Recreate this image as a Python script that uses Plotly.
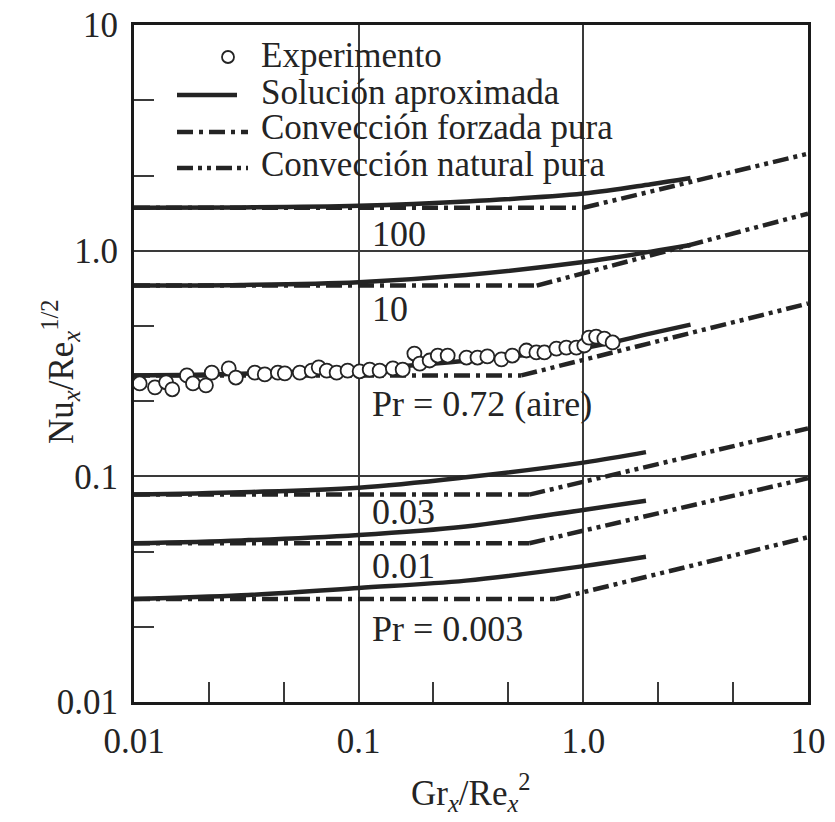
import math
import plotly.graph_objects as go

# ---------------- data ----------------
# Experimental points (Pr = 0.72, air)
x_exp = [0.0106, 0.0124, 0.0139, 0.0148, 0.0172, 0.0183, 0.0209, 0.0222, 0.0264, 0.0284,
         0.0345, 0.0382, 0.0437, 0.0469, 0.0547, 0.0618, 0.0664, 0.0721, 0.0798, 0.0893,
         0.101, 0.112, 0.124, 0.142, 0.157, 0.177, 0.187, 0.207, 0.225, 0.249,
         0.302, 0.338, 0.374, 0.432, 0.483, 0.558, 0.618, 0.671, 0.759, 0.840,
         0.931, 1.01, 1.06, 1.14, 1.24, 1.35]
y_exp = [0.258, 0.248, 0.261, 0.243, 0.280, 0.258, 0.253, 0.288, 0.301, 0.274,
         0.288, 0.283, 0.288, 0.286, 0.288, 0.294, 0.304, 0.294, 0.288, 0.294,
         0.292, 0.297, 0.294, 0.301, 0.297, 0.350, 0.316, 0.326, 0.343, 0.343,
         0.336, 0.336, 0.340, 0.330, 0.343, 0.361, 0.354, 0.354, 0.368, 0.372,
         0.372, 0.380, 0.412, 0.416, 0.408, 0.392]

pr_labels = ["100", "10", "Pr = 0.72 (aire)", "0.03", "0.01", "Pr = 0.003"]

# Pure forced convection: constant level up to the crossing with natural convection
forced_start_x = 0.01
forced_level = [1.55, 0.70, 0.28, 0.083, 0.0505, 0.0286]
forced_end_x = [1.0, 0.62, 0.53, 0.575, 0.575, 0.75]
# Pure natural convection: from the crossing to Gr/Re^2 = 10
natural_end_x = 10
natural_end_y = [2.69, 1.46, 0.583, 0.163, 0.098, 0.0537]

# Approximate solution (solid curves)
approx_x = [
    [0.01, 0.03, 0.1, 0.3, 1.0, 2.0, 3.0],
    [0.01, 0.03, 0.1, 0.3, 1.0, 2.0, 3.0],
    [0.01, 0.03, 0.1, 0.3, 1.0, 2.0, 3.0],
    [0.01, 0.03, 0.1, 0.3, 1.0, 1.9],
    [0.01, 0.03, 0.1, 0.3, 1.0, 1.9],
    [0.01, 0.03, 0.1, 0.3, 1.0, 1.9],
]
approx_y = [
    [1.55, 1.555, 1.58, 1.65, 1.79, 1.97, 2.10],
    [0.70, 0.705, 0.725, 0.78, 0.89, 0.99, 1.06],
    [0.28, 0.285, 0.298, 0.325, 0.37, 0.43, 0.47],
    [0.083, 0.085, 0.089, 0.099, 0.115, 0.128],
    [0.0505, 0.052, 0.055, 0.060, 0.071, 0.078],
    [0.0286, 0.0297, 0.032, 0.0345, 0.040, 0.044],
]

# Curve labels (data coordinates of the left/centre of each label)
label_x = [0.112, 0.112, 0.112, 0.112, 0.112, 0.112]
label_y = [1.19, 0.554, 0.21, 0.0693, 0.040, 0.021]

x_ticks = [0.01, 0.1, 1, 10]
x_ticktext = ["0.01", "0.1", "1.0", "10"]
y_ticks = [0.01, 0.1, 1, 10]
y_ticktext = ["0.01", "0.1", "1.0", "10"]
minor_ticks = [0.0215, 0.0464, 0.215, 0.464, 2.15, 4.64]

legend_texts = ["Experimento", "Solución aproximada",
                "Convección forzada pura", "Convección natural pura"]

# ---------------- styles ----------------
INK = "#242424"
FONT = "Liberation Serif"
FORCED_DASH = "16px,6px,4px,6px"
NATURAL_DASH = "16px,5px,4px,5px,4px,5px"
LW = 4.5

W, H = 835, 822
# plot area in window pixels
L, R, T, B = 134, 808, 25, 702

fig = go.Figure()

for i in range(len(pr_labels)):
    fig.add_trace(go.Scatter(
        x=[forced_start_x, forced_end_x[i]], y=[forced_level[i], forced_level[i]],
        mode="lines", line=dict(color=INK, width=LW, dash=FORCED_DASH),
        showlegend=False, hoverinfo="skip"))
    fig.add_trace(go.Scatter(
        x=[forced_end_x[i], natural_end_x], y=[forced_level[i], natural_end_y[i]],
        mode="lines", line=dict(color=INK, width=LW, dash=NATURAL_DASH),
        showlegend=False, hoverinfo="skip"))

for i in range(len(pr_labels)):
    fig.add_trace(go.Scatter(
        x=approx_x[i], y=approx_y[i], mode="lines", line_shape="spline",
        line=dict(color=INK, width=LW), showlegend=False, hoverinfo="skip"))

fig.add_trace(go.Scatter(
    x=x_exp, y=y_exp, mode="markers",
    marker=dict(symbol="circle", size=14, color="white",
                line=dict(color=INK, width=1.8)),
    showlegend=False, hoverinfo="skip"))


def px2paper_x(px):
    return (px - L) / float(R - L)


def px2paper_y(py):
    return (B - py) / float(B - T)


annotations = []
for i, t in enumerate(pr_labels):
    annotations.append(dict(
        x=math.log10(label_x[i]), y=math.log10(label_y[i]), xref="x", yref="y",
        text=t, showarrow=False, xanchor="left", yanchor="middle",
        font=dict(family=FONT, size=36, color=INK)))

# manual legend
legend_row_y = [56, 92, 128, 164]
for t, ry in zip(legend_texts, legend_row_y):
    annotations.append(dict(
        x=px2paper_x(259), y=px2paper_y(ry), xref="paper", yref="paper",
        text=t, showarrow=False, xanchor="left", yanchor="middle",
        font=dict(family=FONT, size=35, color=INK)))

# axis titles
annotations.append(dict(
    x=0.5, y=px2paper_y(792), xref="paper", yref="paper",
    text="Gr<sub><i>x</i></sub>/Re<sub><i>x</i></sub><sup>2</sup>",
    showarrow=False, xanchor="center", yanchor="middle",
    font=dict(family=FONT, size=35, color=INK)))
annotations.append(dict(
    x=px2paper_x(60), y=px2paper_y(372), xref="paper", yref="paper",
    text="Nu<sub><i>x</i></sub>/Re<sub><i>x</i></sub><sup>1/2</sup>",
    showarrow=False, xanchor="center", yanchor="middle", textangle=-90,
    font=dict(family=FONT, size=35, color=INK)))

shapes = [
    # white legend box (over grid lines, under data)
    dict(type="rect", xref="paper", yref="paper",
         x0=px2paper_x(137), x1=px2paper_x(650), y0=px2paper_y(190), y1=px2paper_y(33),
         fillcolor="white", line=dict(width=0), layer="between"),
    # legend samples
    dict(type="circle", xref="paper", yref="paper",
         x0=px2paper_x(222), x1=px2paper_x(234), y0=px2paper_y(63), y1=px2paper_y(51),
         line=dict(color=INK, width=1.8), fillcolor="white"),
    dict(type="line", xref="paper", yref="paper",
         x0=px2paper_x(177), x1=px2paper_x(237), y0=px2paper_y(95), y1=px2paper_y(95),
         line=dict(color=INK, width=LW)),
    dict(type="line", xref="paper", yref="paper",
         x0=px2paper_x(177), x1=px2paper_x(248), y0=px2paper_y(132), y1=px2paper_y(132),
         line=dict(color=INK, width=LW, dash=FORCED_DASH)),
    dict(type="line", xref="paper", yref="paper",
         x0=px2paper_x(177), x1=px2paper_x(248), y0=px2paper_y(168), y1=px2paper_y(168),
         line=dict(color=INK, width=LW, dash=NATURAL_DASH)),
]

axis_common = dict(
    type="log", range=[-2, 1], showgrid=True, gridcolor="#3a3a3a", gridwidth=1.5,
    showline=True, linecolor="#1a1a1a", linewidth=3, mirror=True, ticks="",
    zeroline=False, automargin=False, ticklabeloverflow="allow",
    tickfont=dict(family=FONT, size=35, color=INK),
    minor=dict(tickvals=minor_ticks, ticks="inside", ticklen=20, tickwidth=1.5,
               tickcolor="#3a3a3a", showgrid=False),
)

fig.update_layout(
    width=W, height=H,
    margin=dict(l=L, r=W - R, t=T, b=H - B, autoexpand=False),
    paper_bgcolor="white", plot_bgcolor="white",
    xaxis=dict(axis_common, tickvals=x_ticks, ticktext=x_ticktext, ticklabelstandoff=6),
    yaxis=dict(axis_common, tickvals=y_ticks, ticktext=y_ticktext, ticklabelstandoff=6),
    annotations=annotations, shapes=shapes, showlegend=False,
)

# remove the default 8px page margin so the figure fills the window exactly
fig.write_html("out.html", config={"displayModeBar": False},
               post_script="document.body.style.margin='0px';")
